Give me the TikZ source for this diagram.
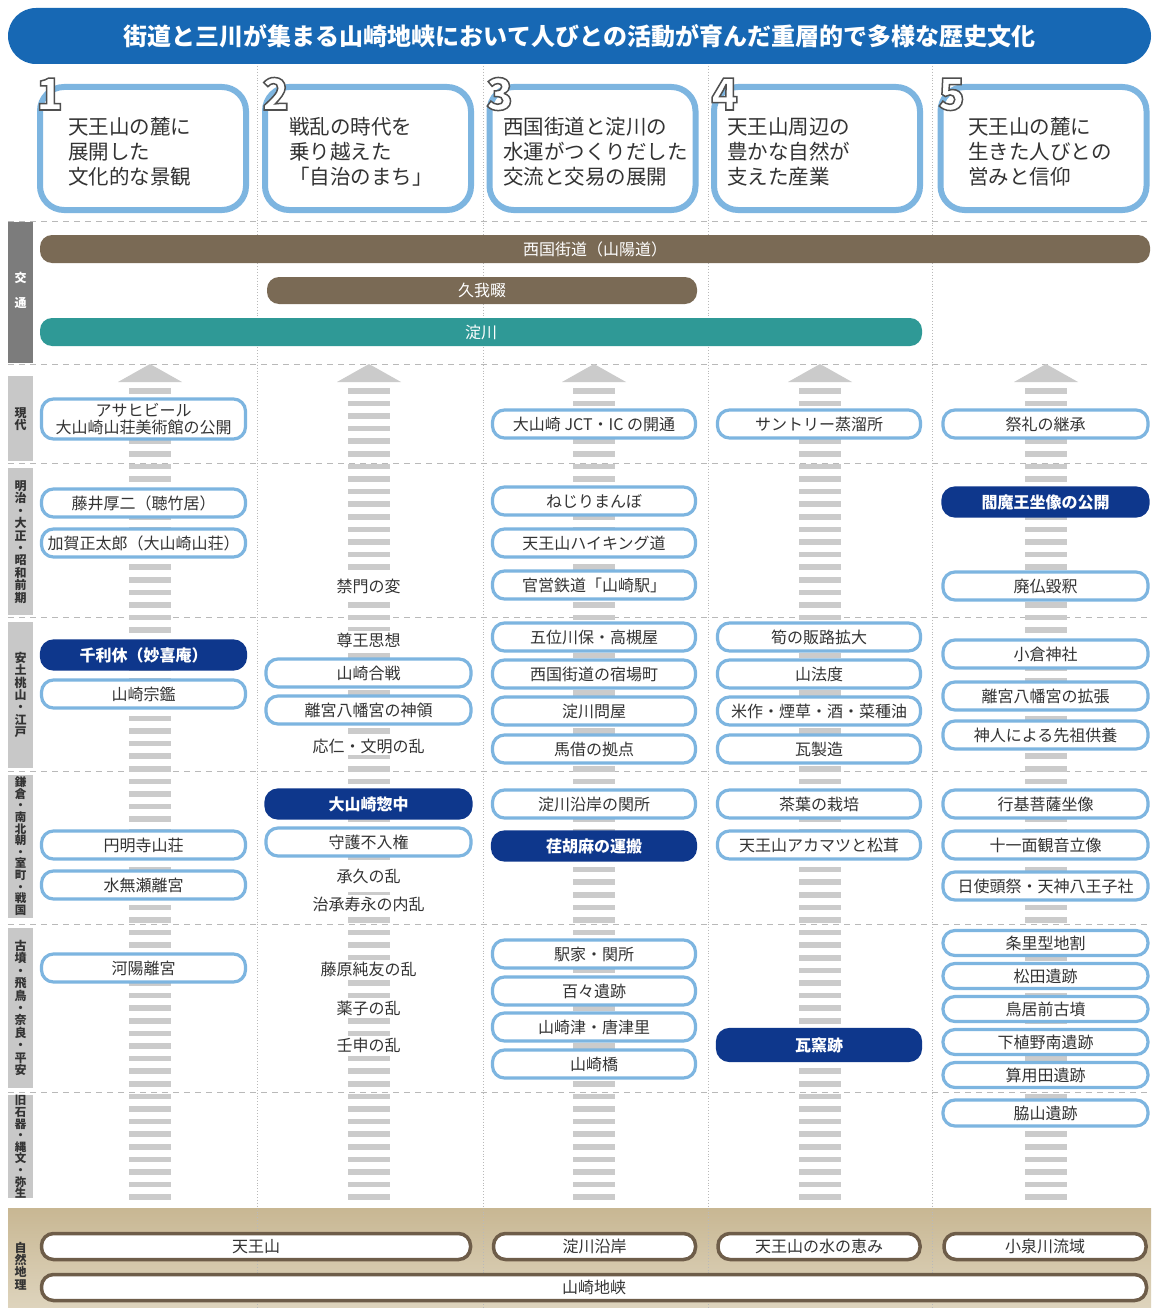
\documentclass[tikz,border=0pt]{standalone}
\usepackage{fontspec}
\setmainfont{Noto Sans CJK JP}
\definecolor{headblue}{HTML}{1768B4}
\definecolor{boxblue}{HTML}{7DB5E0}
\definecolor{pillblue}{HTML}{7DB5E0}
\definecolor{navyc}{HTML}{0E378C}
\definecolor{brownc}{HTML}{7A6A55}
\definecolor{tealc}{HTML}{2F9996}
\definecolor{sidedark}{HTML}{7C7C7C}
\definecolor{sidelight}{HTML}{C8C8C8}
\definecolor{stripec}{HTML}{CBCBCB}
\definecolor{txt}{HTML}{333333}
\definecolor{tanA}{HTML}{C8B793}
\definecolor{tanB}{HTML}{DED4BD}
\definecolor{brownb}{HTML}{6E5D49}
\newcommand\outlined[1]{\special{pdf:literal direct 0.31 G 2 Tr 1.5 w}#1\special{pdf:literal direct 0 Tr}}
\begin{document}
\begin{tikzpicture}[x=1pt,y=-1pt,
  numfont/.style={font=\fontsize{44}{44}\selectfont, inner sep=0pt, text=white, anchor=base west},
  colbox/.style={draw=boxblue, line width=6pt, fill=white, rounded corners=24pt, minimum width=206pt, minimum height=123pt},
  coltext/.style={anchor=west, align=left, text=txt, font=\fontsize{20.5}{25}\selectfont, inner sep=0pt},
  pill/.style={draw=pillblue, line width=3.2pt, fill=white, rounded corners=12pt, minimum height=28pt, inner sep=0pt, text=txt, font=\fontsize{16}{18}\selectfont},
  navy/.style={draw=navyc, fill=navyc, line width=3.2pt, rounded corners=12pt, minimum height=28pt, inner sep=0pt, text=white, font=\bfseries\fontsize{16}{18}\selectfont},
  plain/.style={fill=white, inner sep=1.5pt, text=txt, font=\fontsize{16}{18}\selectfont},
  small/.style={minimum height=25pt},
  wa/.style={minimum width=204pt},
  wb/.style={minimum width=205pt},
  wc/.style={minimum width=203pt},
  bar/.style={rounded corners=12pt, minimum height=28pt, inner sep=0pt, text=white, font=\fontsize{16}{18}\selectfont},
  bpill/.style={draw=brownb, line width=3.5pt, fill=white, rounded corners=12pt, minimum height=26pt, inner sep=0pt, text=txt, font=\fontsize{16}{18}\selectfont},
  side/.style={align=center, inner sep=0pt, font=\bfseries\fontsize{12}{12.4}\selectfont, text=txt},
  colsep/.style={draw=gray!55, line width=0.9pt, dotted},
  hdash/.style={draw=gray!55, line width=1pt, dash pattern=on 6pt off 5pt},
  stripe/.style={fill=stripec}
]
\path[use as bounding box] (0,0) rectangle (1151,1308);
\fill[white] (0,0) rectangle (1151,1308);

% title
\node[fill=headblue, rounded corners=28pt, minimum width=1143pt, minimum height=56pt, inner sep=0pt,
  text=white, font=\bfseries\fontsize{24}{26}\selectfont] (title) at (579.5,36)
  {街道と三川が集まる山崎地峡において人びとの活動が育んだ重層的で多様な歴史文化};

% natural geography band
\shade[top color=tanA, bottom color=tanB] (8,1208) rectangle (1151,1308);

% column separators
\foreach \sx in {257,483,708,932} \draw[colsep] (\sx,66) -- (\sx,1308);

% horizontal dashed rules
\foreach \hy in {221,364,463,617,771,924,1092} \draw[hdash] (8,\hy) -- (1151,\hy);

% sidebar
\fill[sidedark] (8,222) rectangle (33,363);
\fill[sidelight] (8,376) rectangle (33,461);
\fill[sidelight] (8,468) rectangle (33,615);
\fill[sidelight] (8,622) rectangle (33,768);
\fill[sidelight] (8,775) rectangle (33,918);
\fill[sidelight] (8,928) rectangle (33,1088);
\fill[sidelight] (8,1095) rectangle (33,1198);
\node[side, text=white, font=\bfseries\fontsize{12}{25}\selectfont] (s0) at (20.5,290) {交\\通};
\node[side] (s1) at (20.5,419) {現\\代};
\node[side] (s2) at (20.5,542) {明\\治\\・\\大\\正\\・\\昭\\和\\前\\期};
\node[side] (s3) at (20.5,695) {安\\土\\桃\\山\\・\\江\\戸};
\node[side, font=\bfseries\fontsize{11.5}{11.6}\selectfont] (s4) at (20.5,846) {鎌\\倉\\・\\南\\北\\朝\\・\\室\\町\\・\\戦\\国};
\node[side] (s5) at (20.5,1008) {古\\墳\\・\\飛\\鳥\\・\\奈\\良\\・\\平\\安};
\node[side, font=\bfseries\fontsize{11.5}{11.6}\selectfont] (s6) at (20.5,1147) {旧\\石\\器\\・\\縄\\文\\・\\弥\\生};
\node[side] (s7) at (20.5,1266) {自\\然\\地\\理};

% transport bars
\node[bar, fill=brownc, minimum width=1110pt] (r1) at (595,249) {西国街道（山陽道）};
\node[bar, fill=brownc, minimum width=430pt, minimum height=27pt] (r2) at (482,290.5) {久我畷};
\node[bar, fill=tealc, minimum width=882pt] (r3) at (481,332) {淀川};

% striped arrows
\foreach \cx in {150,369,594,820,1046} {
  \fill[stripe] (\cx-32,382) -- (\cx,364) -- (\cx+32,382) -- cycle;
  \foreach \i in {0,...,64}
    \fill[stripe] (\cx-21,388+12.6*\i) rectangle (\cx+21,393.5+12.6*\i);
}

% column header boxes
\node[colbox] (h1) at (143,148.5) {};
\node[colbox] (h2) at (368,148.5) {};
\node[colbox] (h3) at (592.5,148.5) {};
\node[colbox] (h4) at (817,148.5) {};
\node[colbox] (h5) at (1043.5,148.5) {};
\node[coltext] (t1) at (68,152) {天王山の麓に\\展開した\\文化的な景観};
\node[coltext] (t2) at (289,152) {戦乱の時代を\\乗り越えた\\「自治のまち」};
\node[coltext] (t3) at (503,152) {西国街道と淀川の\\水運がつくりだした\\交流と交易の展開};
\node[coltext] (t4) at (727,152) {天王山周辺の\\豊かな自然が\\支えた産業};
\node[coltext] (t5) at (968,152) {天王山の麓に\\生きた人びとの\\営みと信仰};
\node[numfont, font=\bfseries\fontsize{44}{44}\selectfont] (n1) at (36,110) {\outlined{1}};
\node[numfont, font=\bfseries\fontsize{44}{44}\selectfont] (n2) at (262,110) {\outlined{2}};
\node[numfont, font=\bfseries\fontsize{44}{44}\selectfont] (n3) at (486,110) {\outlined{3}};
\node[numfont, font=\bfseries\fontsize{44}{44}\selectfont] (n4) at (711,110) {\outlined{4}};
\node[numfont, font=\bfseries\fontsize{44}{44}\selectfont] (n5) at (938,110) {\outlined{5}};

% column 1
\node[pill, wa, minimum height=40pt, align=center, font=\fontsize{16}{17}\selectfont] (a1) at (143.5,419) {アサヒビール\\大山崎山荘美術館の公開};
\node[pill, wa] (a2) at (143.5,503) {藤井厚二（聴竹居）};
\node[pill, wa] (a3) at (143.5,543) {加賀正太郎（大山崎山荘）};
\node[navy, wa] (a4) at (143.5,655) {千利休（妙喜庵）};
\node[pill, wa] (a5) at (143.5,694) {山崎宗鑑};
\node[pill, wa] (a6) at (143.5,845) {円明寺山荘};
\node[pill, wa] (a7) at (143.5,885) {水無瀬離宮};
\node[pill, wa] (a8) at (143.5,968) {河陽離宮};

% column 2
\node[plain] (b1) at (368.5,586) {禁門の変};
\node[plain] (b2) at (368.5,640) {尊王思想};
\node[pill, wb] (b3) at (368.5,673) {山崎合戦};
\node[pill, wb] (b4) at (368.5,710) {離宮八幡宮の神領};
\node[plain] (b5) at (368.5,746) {応仁・文明の乱};
\node[navy, wb] (b6) at (368.5,804) {大山崎惣中};
\node[pill, wb] (b7) at (368.5,842) {守護不入権};
\node[plain] (b8) at (368.5,876) {承久の乱};
\node[plain] (b9) at (368.5,904) {治承寿永の内乱};
\node[plain] (b10) at (368.5,969) {藤原純友の乱};
\node[plain] (b11) at (368.5,1008) {薬子の乱};
\node[plain] (b12) at (368.5,1045) {壬申の乱};

% column 3
\node[pill, wc] (c1) at (594,424) {大山崎 JCT・IC の開通};
\node[pill, wc] (c2) at (594,501) {ねじりまんぼ};
\node[pill, wc] (c3) at (594,543) {天王山ハイキング道};
\node[pill, wc] (c4) at (594,585) {官営鉄道「山崎駅」};
\node[pill, wc] (c5) at (594,637) {五位川保・高槻屋};
\node[pill, wc] (c6) at (594,674) {西国街道の宿場町};
\node[pill, wc] (c7) at (594,711) {淀川問屋};
\node[pill, wc] (c8) at (594,749) {馬借の拠点};
\node[pill, wc] (c9) at (594,804) {淀川沿岸の関所};
\node[navy, wc] (c10) at (594,846) {荏胡麻の運搬};
\node[pill, wc] (c11) at (594,954) {駅家・関所};
\node[pill, wc] (c12) at (594,991) {百々遺跡};
\node[pill, wc] (c13) at (594,1027) {山崎津・唐津里};
\node[pill, wc] (c14) at (594,1064) {山崎橋};

% column 4
\node[pill, wc] (d1) at (819,424) {サントリー蒸溜所};
\node[pill, wc] (d2) at (819,637) {筍の販路拡大};
\node[pill, wc] (d3) at (819,674) {山法度};
\node[pill, wc] (d4) at (819,711) {米作・煙草・酒・菜種油};
\node[pill, wc] (d5) at (819,749) {瓦製造};
\node[pill, wc] (d6) at (819,804) {茶葉の栽培};
\node[pill, wc] (d7) at (819,845) {天王山アカマツと松茸};
\node[navy, wc, minimum height=31pt] (d8) at (819,1045) {瓦窯跡};

% column 5
\node[pill, wb] (e1) at (1045.5,424) {祭礼の継承};
\node[navy, wb] (e2) at (1045.5,502) {閻魔王坐像の公開};
\node[pill, wb] (e3) at (1045.5,586) {廃仏毀釈};
\node[pill, wb] (e4) at (1045.5,654) {小倉神社};
\node[pill, wb] (e5) at (1045.5,696) {離宮八幡宮の拡張};
\node[pill, wb] (e6) at (1045.5,735) {神人による先祖供養};
\node[pill, wb] (e7) at (1045.5,804) {行基菩薩坐像};
\node[pill, wb] (e8) at (1045.5,845) {十一面観音立像};
\node[pill, wb] (e9) at (1045.5,886) {日使頭祭・天神八王子社};
\node[pill, wb, small] (e10) at (1045.5,943) {条里型地割};
\node[pill, wb, small] (e11) at (1045.5,976) {松田遺跡};
\node[pill, wb, small] (e12) at (1045.5,1009) {鳥居前古墳};
\node[pill, wb, small] (e13) at (1045.5,1042) {下植野南遺跡};
\node[pill, wb, small] (e14) at (1045.5,1075) {算用田遺跡};
\node[pill, wb, minimum height=26pt] (e15) at (1045.5,1113) {脇山遺跡};

% natural geography
\node[bpill, minimum width=429pt] (g1) at (256,1246.5) {天王山};
\node[bpill, minimum width=202pt] (g2) at (594.5,1246.5) {淀川沿岸};
\node[bpill, minimum width=202pt] (g3) at (819,1246.5) {天王山の水の恵み};
\node[bpill, minimum width=202pt] (g4) at (1045,1246.5) {小泉川流域};
\node[bpill, minimum width=1105pt] (g5) at (594,1287.5) {山崎地峡};
\end{tikzpicture}
\end{document}
